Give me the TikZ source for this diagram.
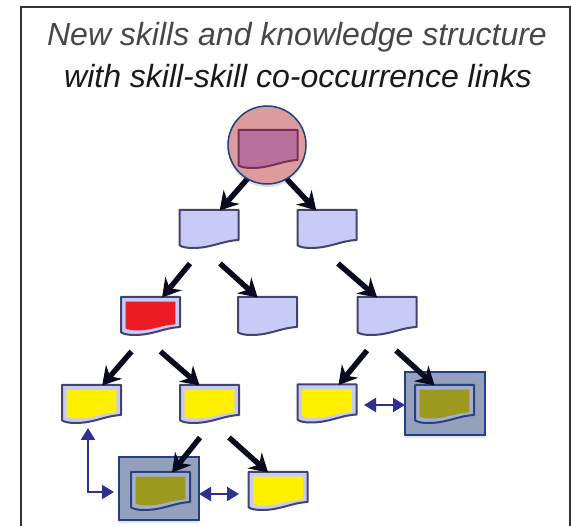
\documentclass[tikz,border=0pt]{standalone}
\usepackage{fontspec}
\setmainfont{Liberation Sans}
\usetikzlibrary{arrows.meta,calc,shadows}
\definecolor{lilac}{HTML}{C8CAF8}
\definecolor{docline}{HTML}{44446A}
\definecolor{skillyellow}{HTML}{FFF000}
\definecolor{skillred}{HTML}{EC1C24}
\definecolor{skillolive}{HTML}{9C9A1E}
\definecolor{boxfill}{HTML}{94A0BC}
\definecolor{navy}{HTML}{1F3F86}
\definecolor{linkblue}{HTML}{2E3192}
\definecolor{rootpink}{HTML}{CE7272}
\definecolor{rootdoc}{HTML}{B8709E}
\definecolor{rootline}{HTML}{7A2F58}
\definecolor{arrowdark}{HTML}{0A0A1E}
\tikzset{
  docnode/.style={minimum width=58pt,minimum height=37pt,inner sep=0pt,outer sep=0pt},
  skillbox/.style={draw=navy,line width=1.5pt,fill=boxfill,minimum width=80pt,minimum height=63pt,inner sep=0pt,outer sep=0pt,
    drop shadow={opacity=.2,shadow xshift=0pt,shadow yshift=-3pt}},
  rootcircle/.style={circle,draw=navy,line width=1.5pt,fill=rootpink,fill opacity=.7,draw opacity=1,minimum size=78pt,inner sep=0pt,outer sep=0pt},
  hier/.style={draw=arrowdark,line width=5.4pt,-{Stealth[length=18pt,width=21pt,inset=6pt]}},
  link/.style={draw=linkblue,line width=2.1pt,{Triangle[length=12pt,width=14pt]}-{Triangle[length=12pt,width=14pt]}},
  titletext/.style={font=\itshape\fontsize{32}{38}\selectfont,inner sep=0pt}
}
% name, x, y, inner fill, outer fill, line colour
\newcommand{\skilldoc}[6]{%
  \node[docnode] (#1) at (#2,#3) {};
  \begin{scope}[shift={(#2,#3)},xscale=29.5,yscale=19]
    \draw[draw=#6,line width=2pt,fill=#5,line join=round]
      (-1,-1) -- (1,-1) -- (1,.58) .. controls (.45,.62) and (.1,1) .. (-.55,1)
      .. controls (-.75,1) and (-.92,.95) .. (-1,.86) -- cycle;
    \fill[#4,xscale=.84,yscale=.76]
      (-1,-1) -- (1,-1) -- (1,.58) .. controls (.45,.62) and (.1,1) .. (-.55,1)
      .. controls (-.75,1) and (-.92,.95) .. (-1,.86) -- cycle;
  \end{scope}
}
\begin{document}
\begin{tikzpicture}[x=1pt,y=-1pt]
\useasboundingbox (0,0) rectangle (571,526);
\fill[white] (0,0) rectangle (571,526);
\draw[color=black!80,line width=1.4pt] (21,526) -- (21,7) -- (570,7) -- (570,526);
\node[titletext,text=black!72] (title1) at (297,37) {New skills and knowledge structure};
\node[titletext,text=black!90] (title2) at (298,76) {with skill-skill co-occurrence links};

% highlight boxes
\node[skillbox] (boxb) at (445,403.5) {};
\node[skillbox] (boxa) at (159,488.5) {};

% documents
\skilldoc{la}{209}{229}{lilac}{lilac}{docline}
\skilldoc{lb}{327}{229}{lilac}{lilac}{docline}
\skilldoc{ma}{150.5}{316}{skillred}{lilac}{docline}
\skilldoc{mb}{267.5}{316}{lilac}{lilac}{docline}
\skilldoc{mc}{387}{316}{lilac}{lilac}{docline}
\skilldoc{na}{91.5}{404}{skillyellow}{lilac}{docline}
\skilldoc{nb}{209.5}{404}{skillyellow}{lilac}{docline}
\skilldoc{nc}{327}{403.5}{skillyellow}{lilac}{docline}
\skilldoc{nd}{444.5}{404}{skillolive}{boxfill!70!lilac}{navy!70!docline}
\skilldoc{pa}{160.5}{491}{skillolive}{boxfill!70!lilac}{navy!70!docline}
\skilldoc{pb}{278}{491}{skillyellow}{lilac}{docline}

% root: the arrows start under the translucent circle
\node[circle,minimum size=78pt,inner sep=0pt,outer sep=0pt] (rootref) at (267,145) {};
\fill[black,opacity=.14] (267,148) circle (39pt);
\fill[white] (267,145) circle (39pt);
\draw[hier] (rootref.-120) -- (la.60);
\draw[hier] (rootref.-60) -- (lb.120);
\node[rootcircle] (root) at (267,145) {};
\skilldoc{rootdocument}{268}{149}{rootdoc}{rootdoc}{rootline}

% hierarchy
\draw[hier] ($(la.south)+(-19,16)$) -- (ma.58);
\draw[hier] ($(la.south)+(11,16)$) -- (mb.118);
\draw[hier] ($(lb.south)+(11,16)$) -- (mc.118);
\draw[hier] ($(ma.south)+(-19,17)$) -- (na.60);
\draw[hier] ($(ma.south)+(10,17)$) -- (nb.118);
\draw[hier] ($(mc.south)+(-20,16)$) -- (nc.58);
\draw[hier] ($(mc.south)+(9,16)$) -- (nd.118);
\draw[hier] ($(nb.south)+(-9.5,15)$) -- (pa.58);
\draw[hier] ($(nb.south)+(19.5,15)$) -- (pb.118);

% co-occurrence links
\draw[link] ($(na.south)+(-3.5,5.5)$) |- ($(boxa.west)+(-5,3.5)$);
\draw[link] ($(boxa.east)+(0,5.5)$) -- ($(pb.west)+(-10,3)$);
\draw[link] ($(nc.east)+(8,1.5)$) -- ($(boxb.west)+(0,1.5)$);
\end{tikzpicture}
\end{document}
